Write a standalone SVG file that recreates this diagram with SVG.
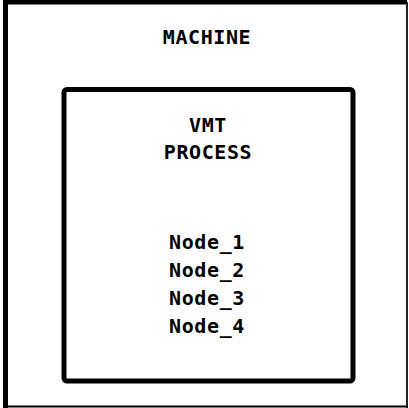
<svg xmlns="http://www.w3.org/2000/svg" width="409" height="408" viewBox="0 0 409 408">
<style>
.lbl{font-family:"DejaVu Sans Mono","Liberation Mono",monospace;font-weight:bold;font-size:20px;fill:#000;text-anchor:middle;letter-spacing:0.6px}
</style>
<rect width="409" height="408" fill="#fff"/>
<g id="machine">
<path d="M5.5 408 V2 H407" fill="none" stroke="#000" stroke-width="5"/>
<path d="M407 2 V408" fill="none" stroke="#222" stroke-width="2"/>
<path d="M3 406.5 H408" fill="none" stroke="#000" stroke-width="2"/>
<text class="lbl" x="207" y="44">MACHINE</text>
</g>
<g id="vmt-process">
<rect x="64" y="89.5" width="289" height="291.5" rx="3" fill="none" stroke="#000" stroke-width="5"/>
<text class="lbl" x="208" y="132">VMT</text>
<text class="lbl" x="208" y="159">PROCESS</text>
<text class="lbl" x="207" y="249">Node_1</text>
<text class="lbl" x="207" y="277">Node_2</text>
<text class="lbl" x="207" y="305">Node_3</text>
<text class="lbl" x="207" y="333">Node_4</text>
</g>
<g id="connectors"/>
</svg>
